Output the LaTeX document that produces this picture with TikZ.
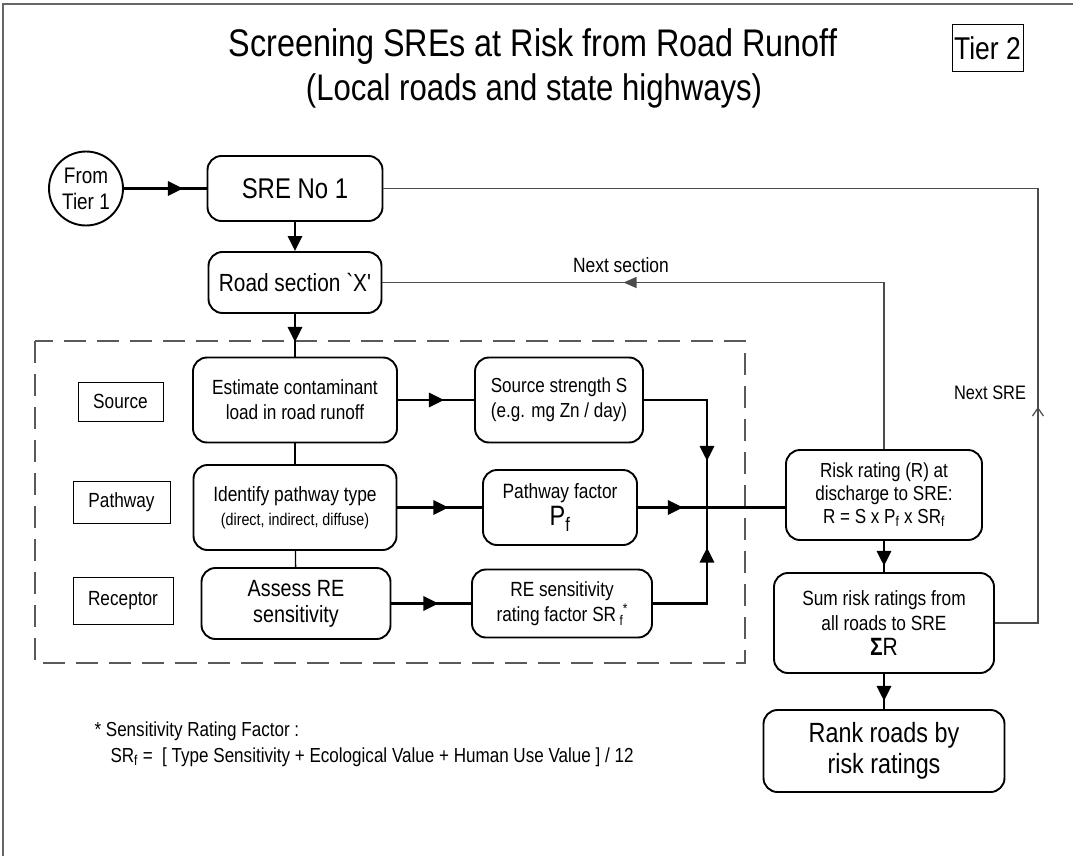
\documentclass[tikz,border=0pt]{standalone}
\usepackage{fontspec}
\setmainfont{Liberation Sans}[FakeStretch=0.84]
\newfontfamily\plainf{Liberation Sans}[FakeStretch=0.84]
\usetikzlibrary{arrows.meta,decorations.markings}
\newcommand\fsz[2]{\fontsize{#1}{#2}\selectfont}
\tikzset{
  box/.style={draw, line width=1.9pt, rounded corners=14pt, align=center, inner sep=0pt},
  lab/.style={draw, line width=1pt, inner sep=0pt, font=\fsz{20.5}{24}},
  thk/.style={line width=2.9pt},
  thn/.style={draw=black!70, line width=1.2pt},
  bigtri/.tip={Triangle[length=15pt,width=14pt]},
  smalltri/.tip={Triangle[length=13pt,width=11pt]},
  openarr/.tip={Straight Barb[length=8pt,width=11pt,line width=1.2pt]},
  markat/.style 2 args={postaction={decorate}, decoration={markings, mark=at position #1 with {\arrow{#2}}}},
}
\begin{document}
\begin{tikzpicture}[x=1pt,y=-1pt]
\useasboundingbox (0,0) rectangle (1073,856);
\draw[black!60, line width=1.5pt] (3,870) -- (3,4) -- (1090,4);

% titles
\node[font=\fsz{38.5}{42}] (title) at (533,47) {Screening SREs at Risk from Road Runoff};
\node[font=\fsz{37}{40}] (subtitle) at (534,91) {(Local roads and state highways)};
\node[draw, line width=1pt, font=\fsz{31.5}{34}, minimum width=71pt, minimum height=47pt, inner sep=0pt] (tier) at (987.5,48.5) {Tier 2};

% dashed frame
\draw[black!65, line width=1.3pt, dash pattern=on 22pt off 11pt] (35,341) rectangle (745,663);

% nodes
\node[circle, draw, line width=1.9pt, minimum size=74pt, inner sep=0pt, align=center, font=\fsz{22.5}{26}] (circ) at (86,188.5) {From\\Tier 1};
\node[box, minimum width=175pt, minimum height=65pt, font=\fsz{28.5}{30}] (sre) at (295,188.5) {SRE No 1};
\node[box, minimum width=173pt, minimum height=61pt, font=\fsz{24.8}{28}] (road) at (295,282.5) {Road section {\plainf `X'}};
\node[box, minimum width=204pt, minimum height=85pt, font=\fsz{20.5}{25}] (est) at (295,400) {Estimate contaminant\\load in road runoff};
\node[box, minimum width=203pt, minimum height=85pt, font=\fsz{20.7}{24}] (ident) at (295,507.5) {Identify pathway type\\{\fsz{17}{20}(direct, indirect, diffuse)}};
\node[box, minimum width=189pt, minimum height=71pt, font=\fsz{23.5}{26}] (assess) at (296,603.5) {Assess RE\\sensitivity};

\node[lab, minimum width=85pt, minimum height=39pt] (srcl) at (120.5,401.5) {Source};
\node[lab, minimum width=97pt, minimum height=42pt] (pathl) at (121.5,502) {Pathway};
\node[lab, minimum width=100pt, minimum height=47pt] (recl) at (123,600.5) {Receptor};

\node[box, minimum width=168pt, minimum height=85pt, font=\fsz{20.3}{25}] (ss) at (559,400) {Source strength S\\(e.g. mg Zn / day)};
\node[box, minimum width=154pt, minimum height=75pt, font=\fsz{20.7}{27}] (pf) at (560,507.5) {Pathway factor\\{\fsz{28}{28}P\textsubscript{f}}};
\node[box, minimum width=180pt, minimum height=68pt, font=\fsz{20.5}{25}] (re) at (562,603.5) {RE sensitivity\\rating factor SR\,\raisebox{-0.35ex}{\fsz{14}{14}f}\raisebox{0.75ex}{\fsz{14}{14}*}};

\node[box, minimum width=196pt, minimum height=90pt, font=\fsz{20.3}{23}] (risk) at (884,495) {Risk rating (R) at\\discharge to SRE:\\R = S x P\textsubscript{f} x SR\textsubscript{f}};
\node[box, minimum width=220pt, minimum height=100pt, font=\fsz{20.6}{25}] (sum) at (884,623) {Sum risk ratings from\\all roads to SRE\\{\fsz{25}{27}{\bfseries Σ}R}};
\node[box, minimum width=241pt, minimum height=82pt, font=\fsz{27.8}{31}] (rank) at (884,751) {Rank roads by\\risk ratings};

\coordinate (J) at (707,507.5);

% labels
\node[font=\fsz{20.7}{24}] (nsec) at (621,265) {Next section};
\node[font=\fsz{19.5}{24}] (nsre) at (990,393) {Next SRE};

% footnote
\node[anchor=west, font=\fsz{20.3}{24}] (fn1) at (91,731) {* Sensitivity Rating Factor :};
\node[anchor=west, font=\fsz{20.3}{24}] (fn2) at (107,757) {SR\textsubscript{f} =\ \ [ Type Sensitivity + Ecological Value + Human Use Value ] / 12};

% thick connectors
\draw[thk, markat={59pt}{bigtri}] (circ) -- (sre);
\draw[thk, -bigtri] (sre) -- (road);
\draw[thk, markat={28pt}{bigtri}] (road) -- (est);
\draw[line width=1.3pt] (est) -- (ident);
\draw[line width=1.3pt] (ident) -- (assess);
\draw[thk, markat={46pt}{bigtri}] (est) -- (ss);
\draw[thk, markat={51pt}{bigtri}] (ident) -- (pf);
\draw[thk, markat={47pt}{bigtri}] (assess) -- (re);
\draw[thk, markat={124pt}{bigtri}] (ss.east) -| (J);
\draw[thk, markat={45pt}{bigtri}] (pf) -- (J);
\draw[thk, markat={110pt}{bigtri}] (re.east) -| (J);
\draw[thk] (J) -- (J -| risk.west);
\draw[thk, markat={25pt}{bigtri}] (risk) -- (sum);
\draw[thk, markat={27pt}{bigtri}] (sum) -- (rank);

% feedback connectors
\draw[thn, markat={427pt}{smalltri}] (risk.north) |- (road.east);
\draw[thn, markat={259pt}{openarr}] (sum.east) -- ++(43,0) |- (sre.east);
\end{tikzpicture}
\end{document}
